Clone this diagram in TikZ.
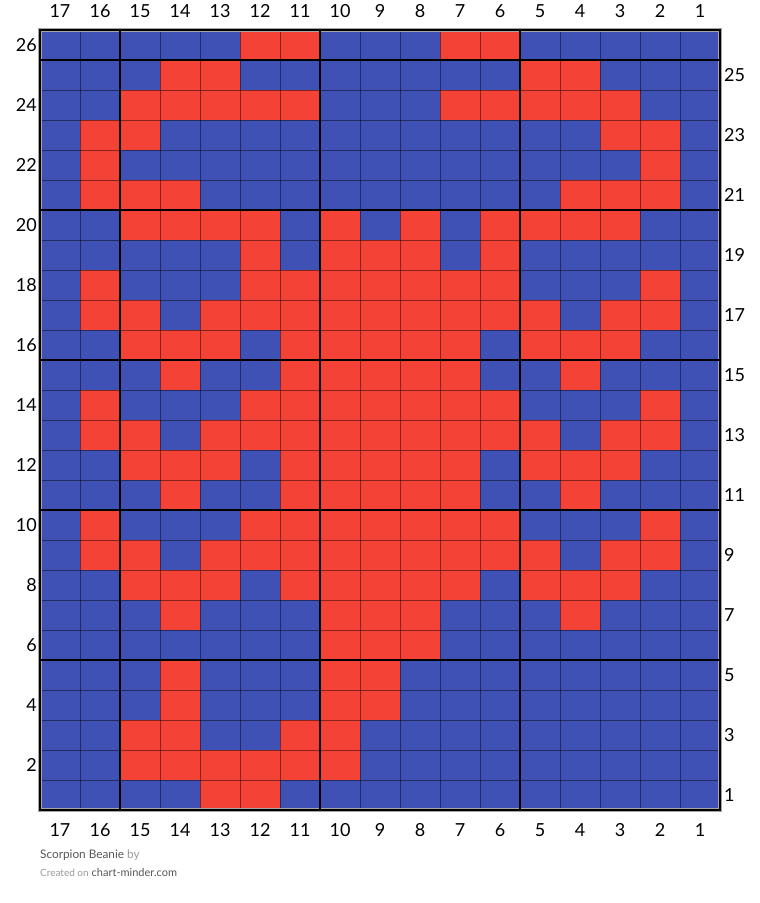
\documentclass[tikz,border=0pt]{standalone}
\usepackage{fontspec}
\setmainfont{Lato}
\definecolor{cblue}{HTML}{3F51B5}
\definecolor{cred}{HTML}{F44336}
\definecolor{gdark}{HTML}{555555}
\definecolor{glight}{HTML}{9A9A9A}
\begin{document}
\begin{tikzpicture}[x=1pt,y=-1pt,
  thinline/.style={draw=black,line width=1pt,opacity=0.45},
  thickline/.style={draw=black,line width=2.4pt},
  lab/.style={font=\fontsize{18}{20}\selectfont,text=black,inner sep=0pt},
  foot/.style={font=\fontsize{11.8}{13}\selectfont,inner sep=0pt,anchor=base west}]
\useasboundingbox (0,0) rectangle (760,903);
% background cells
\fill[cblue] (40,30) rectangle (720,810);
\foreach \r/\cols in {
  26/{12,11,7,6},
  25/{14,13,5,4},
  24/{15,14,13,12,11,7,6,5,4,3},
  23/{16,15,3,2},
  22/{16,2},
  21/{16,15,14,4,3,2},
  20/{15,14,13,12,10,8,6,5,4,3},
  19/{12,10,9,8,6},
  18/{16,12,11,10,9,8,7,6,2},
  17/{16,15,13,12,11,10,9,8,7,6,5,3,2},
  16/{15,14,13,11,10,9,8,7,5,4,3},
  15/{14,11,10,9,8,7,4},
  14/{16,12,11,10,9,8,7,6,2},
  13/{16,15,13,12,11,10,9,8,7,6,5,3,2},
  12/{15,14,13,11,10,9,8,7,5,4,3},
  11/{14,11,10,9,8,7,4},
  10/{16,12,11,10,9,8,7,6,2},
  9/{16,15,13,12,11,10,9,8,7,6,5,3,2},
  8/{15,14,13,11,10,9,8,7,5,4,3},
  7/{14,10,9,8,4},
  6/{10,9,8},
  5/{14,10,9},
  4/{14,10,9},
  3/{15,14,11,10},
  2/{15,14,13,12,11,10},
  1/{13,12}} {
  \foreach \c in \cols {
    \fill[cred] ({40+(17-\c)*40},{30+(26-\r)*30}) rectangle ++(40,30);
  }
}
% thin grid
\foreach \i in {1,...,16} \draw[thinline] ({40+\i*40},30) -- ++(0,780);
\foreach \j in {1,...,25} \draw[thinline] (40,{30+\j*30}) -- ++(680,0);
% thick grid
\draw[draw=black!35,line width=3.6pt] (40,30) rectangle (720,810);
\foreach \x in {120,320,520} \draw[thickline] (\x,30) -- (\x,810);
\foreach \y in {60,210,360,510,660} \draw[thickline] (40,\y) -- (720,\y);
\draw[thickline] (40,30) rectangle (720,810);
% column labels
\foreach \c in {1,...,17} {
  \node[lab] (top\c) at ({40+(17-\c)*40+20},11) {\c};
  \node[lab] (bot\c) at ({40+(17-\c)*40+20},830) {\c};
}
% row labels
\foreach \r in {2,4,...,26}
  \node[lab,anchor=east] (rowl\r) at (37,{30+(26-\r)*30+15}) {\r};
\foreach \r in {1,3,...,25}
  \node[lab,anchor=west] (rowr\r) at (724,{30+(26-\r)*30+15}) {\r};
% footer
\node[foot] (title) at (40,858) {\textcolor{gdark}{Scorpion Beanie} \textcolor{glight}{by}};
\node[foot] (credit) at (40,876) {{\fontsize{10}{12}\selectfont\textcolor{glight}{Created on}} {\fontsize{11}{12}\selectfont\textcolor{gdark}{chart-minder.com}}};
\end{tikzpicture}
\end{document}
